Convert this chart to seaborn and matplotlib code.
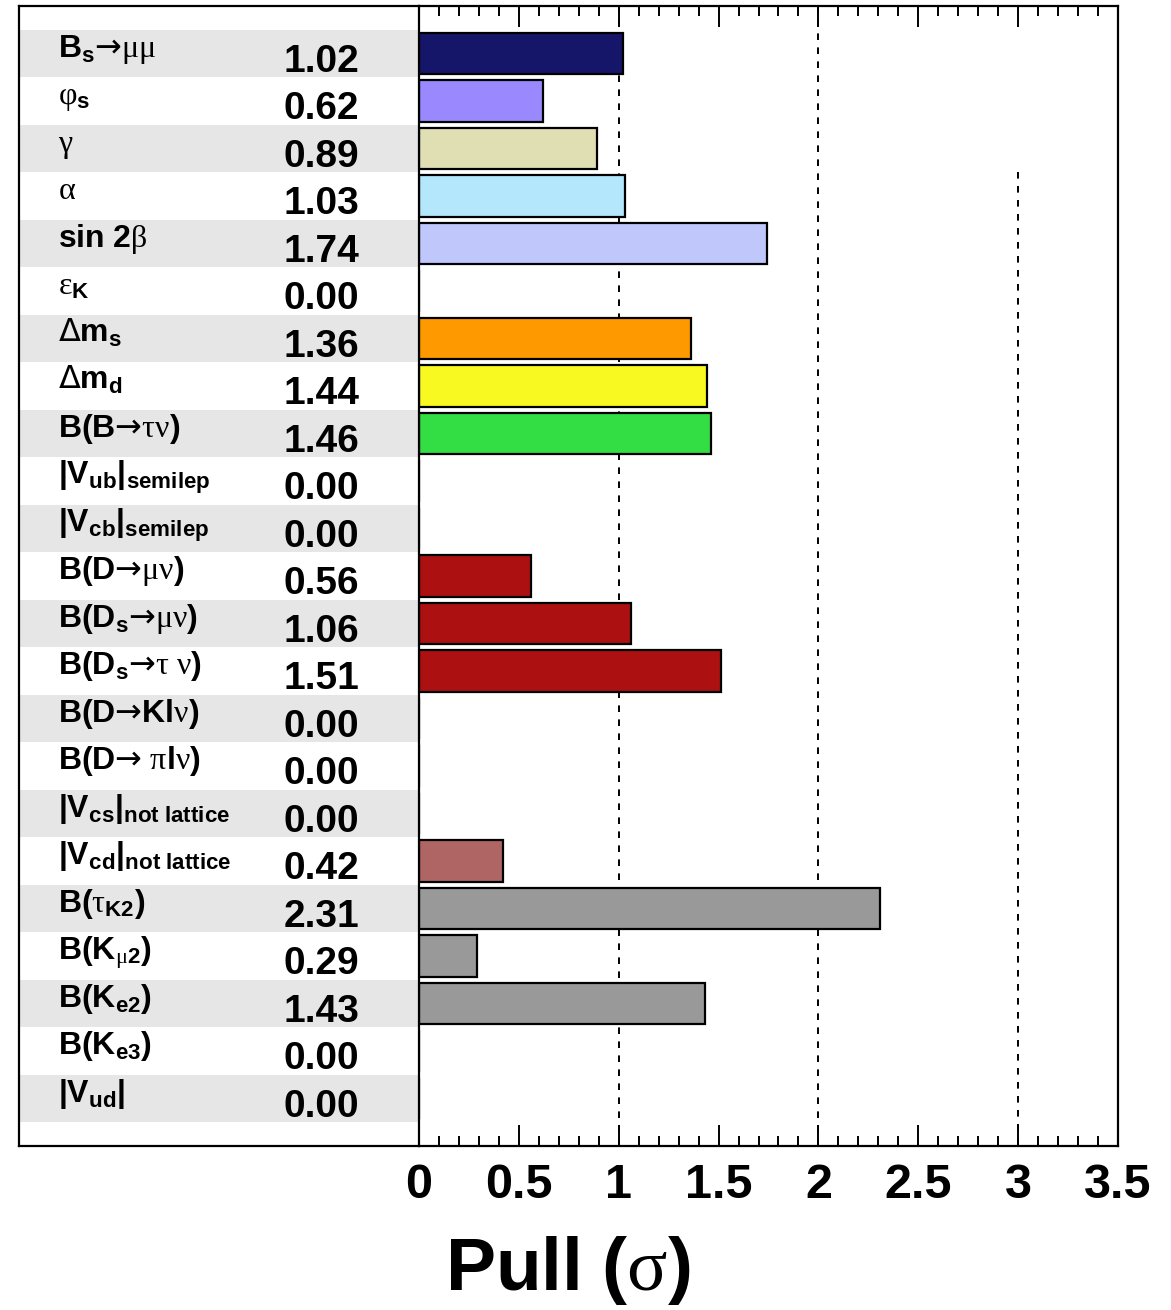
import matplotlib
matplotlib.use("Agg")
import matplotlib.pyplot as plt
from matplotlib.ticker import MultipleLocator, FuncFormatter
import seaborn as sns

sns.set_style("white")
plt.rcParams["font.family"] = "Liberation Sans"
plt.rcParams["font.weight"] = "bold"
plt.rcParams["text.color"] = "black"
plt.rcParams["xtick.color"] = "black"
plt.rcParams["axes.edgecolor"] = "black"
plt.rcParams["axes.labelcolor"] = "black"
plt.rcParams["mathtext.fontset"] = "custom"
plt.rcParams["mathtext.bf"] = "Liberation Sans:weight=bold"
plt.rcParams["mathtext.rm"] = "DejaVu Sans:weight=normal"
plt.rcParams["mathtext.it"] = "Liberation Serif:weight=normal"
plt.rcParams["mathtext.sf"] = "Liberation Sans:weight=normal"

# observables, top to bottom
keys = ["Bsmumu", "phis", "gamma", "alpha", "sin2b", "epsK", "dms", "dmd", "Btaunu",
        "Vub", "Vcb", "Dmunu", "Dsmunu", "Dstaunu", "DKlnu", "Dpilnu", "Vcs", "Vcd",
        "tauK2", "Kmu2", "Ke2", "Ke3", "Vud"]
labels = [
    r"$\mathbf{B_s}→\mu\mu$",
    r"$φ_\mathbf{s}$",
    r"$\gamma$",
    r"$\alpha$",
    r"$\mathbf{sin\ 2}\beta$",
    r"$ε_\mathbf{K}$",
    r"$\Delta\mathbf{m_s}$",
    r"$\Delta\mathbf{m_d}$",
    r"$\mathbf{B(B}→\tau\nu\mathbf{)}$",
    r"$\mathbf{|V_{ub}|_{semilep}}$",
    r"$\mathbf{|V_{cb}|_{semilep}}$",
    r"$\mathbf{B(D}→\mu\nu\mathbf{)}$",
    r"$\mathbf{B(D_s}→\mu\nu\mathbf{)}$",
    r"$\mathbf{B(D_s}→\tau\ \nu\mathbf{)}$",
    r"$\mathbf{B(D}→\mathbf{Kl}\nu\mathbf{)}$",
    r"$\mathbf{B(D}→\ \pi\mathbf{l}\nu\mathbf{)}$",
    r"$\mathbf{|V_{cs}|_{not\ lattice}}$",
    r"$\mathbf{|V_{cd}|_{not\ lattice}}$",
    r"$\mathbf{B(}\tau_\mathbf{K2}\mathbf{)}$",
    r"$\mathbf{B(K}_{\mu\mathbf{2}}\mathbf{)}$",
    r"$\mathbf{B(K_{e2})}$",
    r"$\mathbf{B(K_{e3})}$",
    r"$\mathbf{|V_{ud}|}$",
]
pulls = [1.02, 0.62, 0.89, 1.03, 1.74, 0.00, 1.36, 1.44, 1.46, 0.00, 0.00, 0.56,
         1.06, 1.51, 0.00, 0.00, 0.00, 0.42, 2.31, 0.29, 1.43, 0.00, 0.00]
colors = ["#15156a", "#9a88ff", "#e0dfb3", "#b4e6fc", "#c0c8fb", "#ffffff",
          "#ff9900", "#f9f922", "#33dd44", "#ffffff", "#ffffff", "#ad1010",
          "#ad1010", "#ad1010", "#ffffff", "#ffffff", "#ffffff", "#b06565",
          "#999999", "#999999", "#999999", "#ffffff", "#ffffff"]

n = len(keys)
W, H = 1171, 1310
fig = plt.figure(figsize=(W / 100, H / 100), dpi=100)
bot = (H - 1146) / H
hgt = 1140 / H
axl = fig.add_axes([19 / W, bot, 400 / W, hgt])
ax = fig.add_axes([419 / W, bot, 699 / W, hgt])

# left panel: labels and values
axl.set_xlim(0, 1)
axl.set_ylim(n, -1)
for i in range(0, n, 2):
    axl.axhspan(i - 0.5, i + 0.5, color="#e6e6e6", lw=0)
for i, (lab, p) in enumerate(zip(labels, pulls)):
    axl.text(0.097, i + 0.07, lab, fontsize=23, ha="left", va="baseline")
    axl.text(0.85, i + 0.38, f"{p:.2f}", fontsize=28, ha="right", va="baseline")
axl.set_xticks([])
axl.set_yticks([])
for s in ["left", "top", "bottom"]:
    axl.spines[s].set_linewidth(1.6)
axl.spines["right"].set_visible(False)

# right panel: pull bars
sns.barplot(x=pulls, y=keys, hue=keys, palette=dict(zip(keys, colors)), orient="h",
            width=0.88, saturation=1, edgecolor="black", linewidth=1.6,
            legend=False, ax=ax)
ax.set_ylim(n, -1)
ax.set_xlim(0, 3.5)
ax.set_yticks([])
ax.set_ylabel("")
for xv in [1, 2]:
    ax.axvline(xv, color="black", lw=1.4, ls=(0, (3.4, 3.8)), zorder=0)
ax.vlines(3, 2.5, n, color="black", lw=1.4, ls=(0, (3.4, 3.8)), zorder=0)
for s in ax.spines.values():
    s.set_linewidth(1.6)

ax.xaxis.set_major_locator(MultipleLocator(0.5))
ax.xaxis.set_minor_locator(MultipleLocator(0.1))
ax.xaxis.set_major_formatter(FuncFormatter(lambda v, p: f"{v:g}"))
ax.tick_params(axis="x", which="both", direction="in", top=True, bottom=True,
               width=1.4, color="black", labelcolor="black")
ax.tick_params(axis="x", which="major", length=15, labelsize=35, pad=12)
ax.tick_params(axis="x", which="minor", length=7.5)

ax.set_xlabel(r"$\mathbf{Pull\ (}σ\mathbf{)}$", fontsize=54, ha="left", va="baseline",
              color="black")
ax.xaxis.set_label_coords((445 - 419) / 699, (1146 - 1290) / 1140)

fig.savefig("out.png", dpi=100)
